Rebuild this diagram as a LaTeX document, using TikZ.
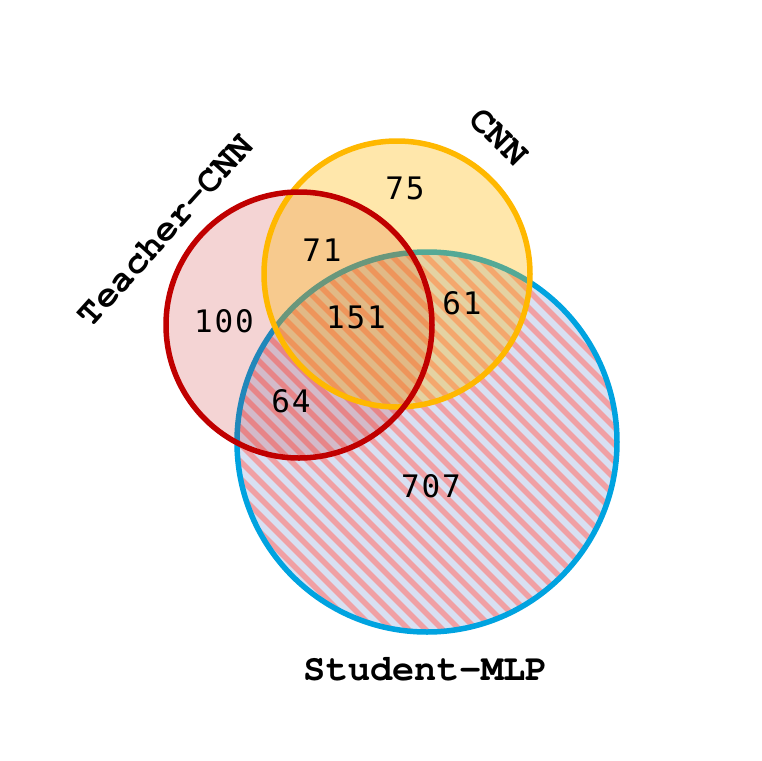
\documentclass[tikz,border=0pt]{standalone}
\usepackage{fontspec}
\newfontfamily\numfont[LetterSpace=6]{DejaVu Sans Mono}
\newfontfamily\labfont{TeX Gyre Cursor}
\definecolor{bluebd}{HTML}{00A3E0}
\definecolor{bluefill}{HTML}{D8E0F2}
\definecolor{hatchc}{HTML}{F0A0A4}
\definecolor{redbd}{HTML}{C00000}
\definecolor{orbd}{HTML}{FFB800}
\tikzset{
  num/.style={font=\numfont\fontsize{31}{31}\selectfont, text=black, inner sep=0pt},
  lab/.style={font=\labfont\bfseries\fontsize{37}{37}\selectfont, text=black, inner sep=0pt},
  bd/.style={line width=5.5pt}
}
\begin{document}
\begin{tikzpicture}[x=1pt,y=-1pt]
\fill[white] (0,0) rectangle (761,761);
\useasboundingbox (0,0) rectangle (761,761);
\coordinate (cb) at (427,442);
\coordinate (cr) at (299,325);
\coordinate (co) at (397,274);
% Student-MLP circle
\fill[bluefill] (cb) circle[radius=190];
\begin{scope}
\clip (cb) circle[radius=190];
\foreach \k in {-816,-799,...,800}{
  \draw[hatchc, line width=5.5pt] (\k,0) -- (\k+800,800);
}
\end{scope}
\draw[bluebd, bd] (cb) circle[radius=190];
% fills
\fill[redbd, fill opacity=0.17] (cr) circle[radius=133];
\fill[orbd, fill opacity=0.33] (co) circle[radius=133];
% borders
\draw[orbd, bd] (co) circle[radius=133];
\draw[redbd, bd] (cr) circle[radius=133];
% numbers
\node[num] (n75) at (405,188) {75};
\node[num] (n71) at (322,250) {71};
\node[num] (n100) at (224,321) {100};
\node[num] (n151) at (356,317) {151};
\node[num] (n61) at (462,303) {61};
\node[num] (n64) at (291,401) {64};
\node[num] (n707) at (431,486) {707};
% labels
\node[lab, rotate=48] (lt) at (165,230) {Teacher-CNN};
\node[lab, rotate=-45] (lc) at (499,137) {CNN};
\node[lab] (ls) at (426,669) {Student-MLP};
\end{tikzpicture}
\end{document}
